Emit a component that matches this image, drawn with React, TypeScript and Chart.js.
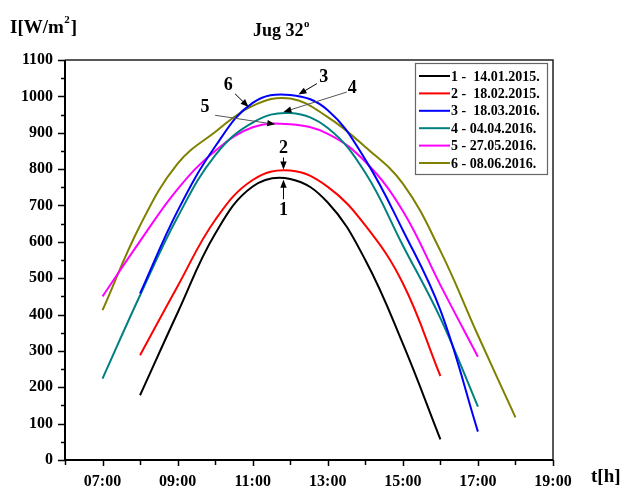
import React, { useEffect, useRef } from 'react';
import { Chart, registerables } from 'chart.js';

Chart.register(...registerables);

// Time of day in hours
const hours = [7, 8, 9, 10, 11, 12, 13, 14, 15, 16, 17, 18];

const seriesLabels = [
  '1 -  14.01.2015.',
  '2 -  18.02.2015.',
  '3 -  18.03.2016.',
  '4 - 04.04.2016.',
  '5 - 27.05.2016.',
  '6 - 08.06.2016.',
];

const s1 = [null, 178, 405, 622, 752, 773, 708, 550, 320, 57, null, null];
const s2 = [null, 288, 478, 660, 770, 796, 751, 645, 486, 231, null, null];
const s3 = [null, 458, 685, 862, 982, 1004, 962, 826, 632, 412, 78, null];
const s4 = [224, 453, 668, 838, 928, 954, 913, 790, 590, 390, 147, null];
const s5 = [450, 602, 745, 850, 915, 923, 897, 820, 685, 481, 284, null];
const s6 = [412, 645, 815, 902, 974, 994, 943, 861, 760, 575, 343, 117];

const seriesValues = [s1, s2, s3, s4, s5, s6];
const seriesColors = ['#000000', '#ff0000', '#0000ff', '#008080', '#ff00ff', '#808000'];

const yTicks = [0, 100, 200, 300, 400, 500, 600, 700, 800, 900, 1000, 1100];
const xTickHours = [7, 9, 11, 13, 15, 17, 19];

// Curve labels with arrows, in data units (hours, W/m2)
const curveNotes = [
  { text: '1', tx: 11.82, ty: 687, fx: 11.82, fy: 717, hx: 11.82, hy: 771, line: '#000' },
  { text: '2', tx: 11.82, ty: 856, fx: 11.82, fy: 832, hx: 11.82, hy: 799, line: '#000' },
  { text: '3', tx: 12.89, ty: 1053, fx: 12.71, fy: 1035, hx: 12.22, hy: 1005, line: '#000' },
  { text: '4', tx: 13.65, ty: 1021, fx: 13.51, fy: 1012, hx: 11.82, hy: 957, line: '#555' },
  { text: '5', tx: 9.73, ty: 971, fx: 10.0, fy: 948, hx: 11.6, hy: 923, line: '#555' },
  { text: '6', tx: 10.35, ty: 1030, fx: 10.53, fy: 1007, hx: 10.89, hy: 971, line: '#000' },
];

const SERIF = '"Liberation Serif", "DejaVu Serif", serif';

function hourLabel(v: number) {
  return (v < 10 ? '0' : '') + v + ':00';
}

const decorPlugin = {
  id: 'decor',
  afterDraw(chart: any) {
    const ctx = chart.ctx;
    const xs = chart.scales.x;
    const ys = chart.scales.y;
    const a = chart.chartArea;
    ctx.save();

    // frame
    ctx.strokeStyle = '#222';
    ctx.lineWidth = 1.5;
    ctx.beginPath();
    ctx.moveTo(a.left, a.top);
    ctx.lineTo(a.right, a.top);
    ctx.lineTo(a.right, a.bottom);
    ctx.stroke();
    ctx.strokeStyle = '#000';
    ctx.lineWidth = 2;
    ctx.beginPath();
    ctx.moveTo(a.left, a.top);
    ctx.lineTo(a.left, a.bottom);
    ctx.lineTo(a.right, a.bottom);
    ctx.stroke();

    // y ticks (major + minor)
    ctx.lineWidth = 1.5;
    ctx.beginPath();
    for (let v = 0; v <= 1100; v += 50) {
      const y = Math.round(ys.getPixelForValue(v)) + 0.5;
      const len = v % 100 === 0 ? 7 : 4;
      ctx.moveTo(a.left - len, y);
      ctx.lineTo(a.left, y);
    }
    // x ticks
    for (let h = 6; h <= 19; h++) {
      const x = Math.round(xs.getPixelForValue(h)) + 0.5;
      const len = h % 2 === 1 ? 6 : 5;
      ctx.moveTo(x, a.bottom);
      ctx.lineTo(x, a.bottom + len);
    }
    ctx.stroke();

    // titles
    ctx.fillStyle = '#000';
    ctx.textBaseline = 'alphabetic';
    ctx.textAlign = 'left';
    ctx.font = 'bold 19px ' + SERIF;
    let x0 = 10;
    ctx.fillText('I[W/m', x0, 33);
    x0 += ctx.measureText('I[W/m').width;
    ctx.font = 'bold 11px ' + SERIF;
    ctx.fillText('2', x0 + 0.5, 23);
    x0 += ctx.measureText('2').width + 1.5;
    ctx.font = 'bold 19px ' + SERIF;
    ctx.fillText(']', x0, 33);

    ctx.font = 'bold 18px ' + SERIF;
    let tx = 253;
    ctx.fillText('Jug 32', tx, 36);
    tx += ctx.measureText('Jug 32').width;
    ctx.font = 'bold 11px ' + SERIF;
    ctx.fillText('o', tx + 0.5, 27);

    ctx.font = 'bold 19px ' + SERIF;
    ctx.fillText('t[h]', 591, 482);

    // legend
    const lx = 415, ly = 63, lw = 132, lh = 111;
    ctx.fillStyle = '#fff';
    ctx.fillRect(lx, ly, lw, lh);
    ctx.strokeStyle = '#666';
    ctx.lineWidth = 1.2;
    ctx.strokeRect(lx + 0.5, ly + 0.5, lw, lh);
    ctx.font = 'bold 14px ' + SERIF;
    ctx.textBaseline = 'middle';
    seriesLabels.forEach((lab, i) => {
      const yy = ly + 13 + i * 17.4;
      ctx.strokeStyle = seriesColors[i];
      ctx.lineWidth = 2;
      ctx.beginPath();
      ctx.moveTo(lx + 4, yy);
      ctx.lineTo(lx + 35, yy);
      ctx.stroke();
      ctx.fillStyle = '#000';
      ctx.fillText(lab, lx + 36, yy + 1);
    });

    // curve notes
    ctx.font = 'bold 18px ' + SERIF;
    ctx.textAlign = 'center';
    ctx.textBaseline = 'middle';
    curveNotes.forEach((n) => {
      const px = xs.getPixelForValue(n.tx);
      const py = ys.getPixelForValue(n.ty);
      ctx.fillStyle = '#000';
      ctx.fillText(n.text, px, py);
      const fx = xs.getPixelForValue(n.fx);
      const fy = ys.getPixelForValue(n.fy);
      const hx = xs.getPixelForValue(n.hx);
      const hy = ys.getPixelForValue(n.hy);
      const ang = Math.atan2(hy - fy, hx - fx);
      const hl = 8, hw = 3.2;
      ctx.strokeStyle = n.line;
      ctx.lineWidth = 1;
      ctx.beginPath();
      ctx.moveTo(fx, fy);
      ctx.lineTo(hx - Math.cos(ang) * hl * 0.8, hy - Math.sin(ang) * hl * 0.8);
      ctx.stroke();
      ctx.fillStyle = '#000';
      ctx.beginPath();
      ctx.moveTo(hx, hy);
      ctx.lineTo(hx - Math.cos(ang) * hl - Math.sin(ang) * hw, hy - Math.sin(ang) * hl + Math.cos(ang) * hw);
      ctx.lineTo(hx - Math.cos(ang) * hl + Math.sin(ang) * hw, hy - Math.sin(ang) * hl - Math.cos(ang) * hw);
      ctx.closePath();
      ctx.fill();
    });

    ctx.restore();
  },
};

export default function App() {
  const ref = useRef<HTMLCanvasElement | null>(null);

  useEffect(() => {
    if (!ref.current) return;
    const datasets = seriesValues.map((vals, i) => ({
      label: seriesLabels[i],
      data: hours
        .map((h, j) => ({ x: h, y: vals[j] }))
        .filter((p) => p.y !== null),
      borderColor: seriesColors[i],
      backgroundColor: seriesColors[i],
      borderWidth: 2,
      pointRadius: 0,
      fill: false,
      tension: 0.4,
    }));

    const chart = new Chart(ref.current, {
      type: 'line',
      data: { datasets },
      options: {
        responsive: false,
        animation: false,
        devicePixelRatio: 1,
        layout: { padding: { top: 60, right: 73, left: 0, bottom: 0 } },
        plugins: {
          legend: { display: false },
          title: { display: false },
          tooltip: { enabled: false },
        },
        scales: {
          x: {
            type: 'linear',
            min: 6,
            max: 19,
            afterFit: (s: any) => {
              s.height = 28;
            },
            afterBuildTicks: (s: any) => {
              s.ticks = xTickHours.map((v) => ({ value: v }));
            },
            ticks: {
              autoSkip: false,
              maxRotation: 0,
              padding: 12,
              color: '#000',
              font: { family: SERIF, size: 16, weight: 'bold' },
              callback: (v: any) => hourLabel(Number(v)),
            },
            grid: { display: false, drawTicks: false },
            border: { display: false },
          },
          y: {
            min: 0,
            max: 1100,
            afterFit: (s: any) => {
              s.width = 65;
            },
            afterBuildTicks: (s: any) => {
              s.ticks = yTicks.map((v) => ({ value: v }));
            },
            ticks: {
              padding: 12,
              color: '#000',
              font: { family: SERIF, size: 16, weight: 'bold' },
              callback: (v: any) => String(v),
            },
            grid: { display: false, drawTicks: false },
            border: { display: false },
          },
        },
      },
      plugins: [decorPlugin],
    });
    return () => chart.destroy();
  }, []);

  return (
    <div style={{ position: 'absolute', left: 0, top: 0, width: 626, height: 488, background: '#fff' }}>
      <canvas ref={ref} width={626} height={488} style={{ width: 626, height: 488 }} />
    </div>
  );
}
